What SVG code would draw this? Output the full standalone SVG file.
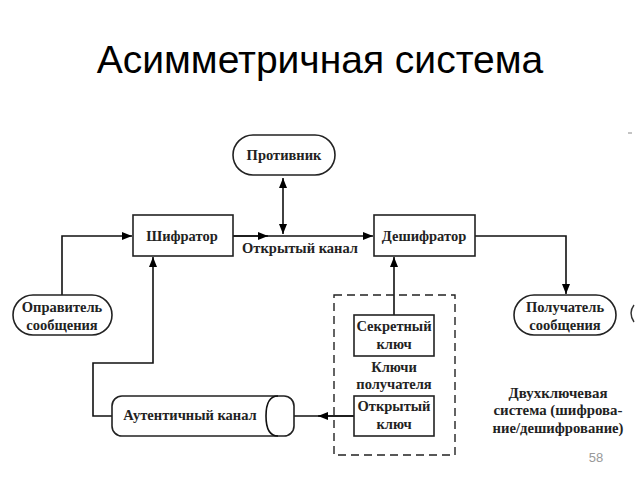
<svg xmlns="http://www.w3.org/2000/svg" width="640" height="480" viewBox="0 0 640 480">
<defs>
<marker id="ah" viewBox="0 0 10 10" refX="10" refY="5" markerWidth="10" markerHeight="10" markerUnits="userSpaceOnUse" orient="auto-start-reverse">
<path d="M0,1 L10,5 L0,9 Z" fill="#000"/>
</marker>
<style>
.b{fill:#fff;stroke:#222;stroke-width:1.6}
.l{fill:none;stroke:#111;stroke-width:1.6}
.t{font-family:"Liberation Serif","DejaVu Serif",serif;font-weight:bold;font-size:14.5px;fill:#222;text-anchor:middle}
</style>
</defs>
<rect width="640" height="480" fill="#fff"/>
<text x="320" y="73" font-family="Liberation Sans, Arial, sans-serif" font-size="39" text-anchor="middle" fill="#000">Асимметричная система</text>

<g id="connectors">
<path class="l" d="M283,178 L283,234" marker-start="url(#ah)" marker-end="url(#ah)"/>
<path class="l" d="M233,236 L373,236" marker-end="url(#ah)"/>
<path class="l" d="M233,236 L268,236" marker-end="url(#ah)"/>
<path class="l" d="M62,295 L62,236 L132,236" marker-end="url(#ah)"/>
<path class="l" d="M112,416 L93,416 L93,363 L153,363 L153,257" marker-end="url(#ah)"/>
<path class="l" d="M394,315 L394,257" marker-end="url(#ah)"/>
<path class="l" d="M475,236 L566,236 L566,294" marker-end="url(#ah)"/>
<path class="l" d="M354,416 L280,416"/>
<path class="l" d="M354,416 L318,416" marker-end="url(#ah)"/>
</g>

<g id="protivnik">
<rect class="b" x="233" y="135" width="102" height="40" rx="20"/>
<text class="t" x="284" y="160">Противник</text>
</g>
<g id="shifrator">
<rect class="b" x="133" y="215" width="100" height="41"/>
<text class="t" x="182" y="241">Шифратор</text>
</g>
<g id="deshifrator">
<rect class="b" x="374" y="215" width="101" height="41"/>
<text class="t" x="424" y="241">Дешифратор</text>
</g>
<text class="t" x="300" y="253">Открытый канал</text>
<g id="otpravitel">
<rect class="b" x="13" y="295" width="99" height="40" rx="20"/>
<text class="t" x="62" y="312">Оправитель</text>
<text class="t" x="62" y="330">сообщения</text>
</g>
<g id="poluchatel">
<rect class="b" x="514" y="295" width="102" height="40" rx="20"/>
<text class="t" x="565" y="312">Получатель</text>
<text class="t" x="565" y="330">сообщения</text>
</g>
<g id="klyuchi">
<rect x="334" y="295" width="121" height="160" fill="none" stroke="#222" stroke-width="1.4" stroke-dasharray="8,5"/>
<text class="t" x="394" y="372">Ключи</text>
<text class="t" x="394" y="389">получателя</text>
</g>
<g id="sekretny">
<rect class="b" x="354" y="315" width="80" height="41"/>
<text class="t" x="394" y="331">Секретный</text>
<text class="t" x="394" y="349">ключ</text>
</g>
<g id="otkryty">
<rect class="b" x="354" y="396" width="80" height="40"/>
<text class="t" x="394" y="411">Открытый</text>
<text class="t" x="394" y="429">ключ</text>
</g>
<g id="autent">
<rect class="b" x="112" y="396" width="182" height="40" rx="10"/>
<path class="l" d="M278,396 Q266,396 266,416 Q266,436 278,436"/>
<text class="t" x="190" y="420">Аутентичный канал</text>
</g>
<path d="M634,305 Q628,313 634,322" fill="none" stroke="#333" stroke-width="1.4"/>
<path d="M628,133 L632,133" stroke="#888" stroke-width="1"/>
<text class="t" x="558" y="398" textLength="99" lengthAdjust="spacingAndGlyphs">Двухключевая</text>
<text class="t" x="558" y="415" textLength="129" lengthAdjust="spacingAndGlyphs">система (шифрова-</text>
<text class="t" x="558" y="433" textLength="131" lengthAdjust="spacingAndGlyphs">ние/дешифрование)</text>
<text x="596" y="462" font-family="Liberation Sans, Arial, sans-serif" font-size="13" text-anchor="middle" fill="#999">58</text>
</svg>
